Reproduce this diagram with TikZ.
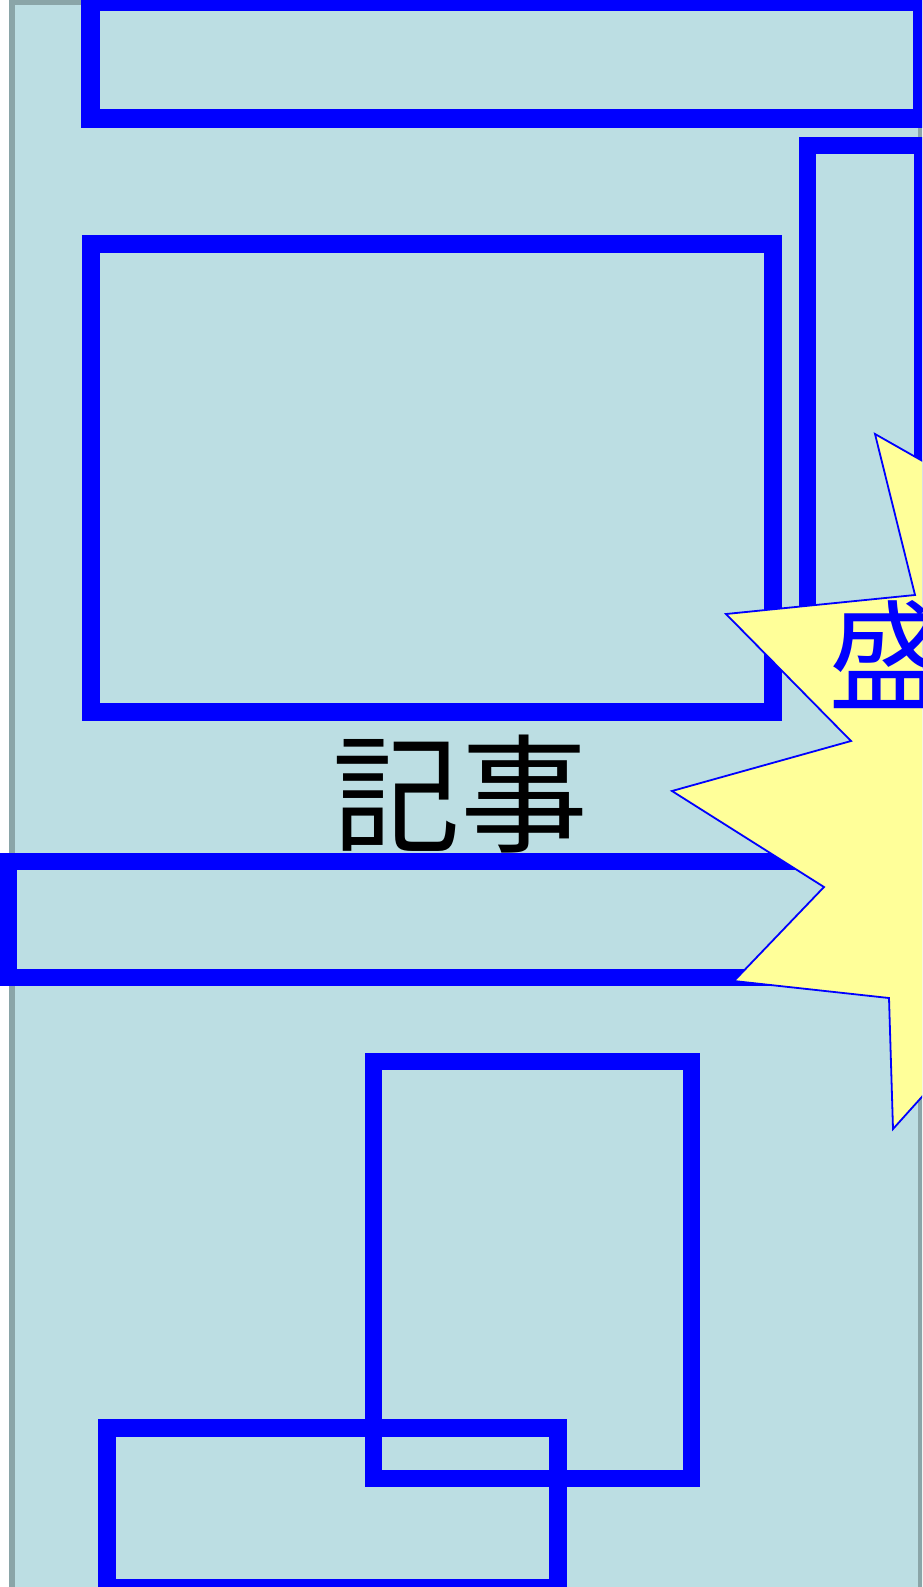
\documentclass[tikz,border=0pt]{standalone}
\usepackage{fontspec}
\newfontfamily\jpfont{Noto Sans CJK JP}
\definecolor{bgblue}{RGB}{188,222,227}
\definecolor{framegray}{RGB}{138,165,168}
\definecolor{staryellow}{RGB}{255,255,153}
\tikzset{
  boxline/.style={draw=blue, line width=18pt},
  starshape/.style={fill=staryellow, draw=blue, line width=1.8pt, line join=miter},
}
\begin{document}
\begin{tikzpicture}[x=1pt,y=-1pt]
\useasboundingbox (0,0) rectangle (922,1587);
\clip (0,0) rectangle (922,1587);
\fill[white] (0,0) rectangle (922,1587);
\filldraw[fill=bgblue, draw=framegray, line width=6pt] (12,2) rectangle (921,1590);
% rectangles
\draw[boxline, line width=19pt] (90.5,1.5) rectangle (922.5,118.5);
\draw[boxline, line width=17pt] (807,145) rectangle (922,660);
\draw[boxline] (90.5,243.5) rectangle (773,712);
\draw[boxline, line width=17pt] (8,861) rectangle (870,977);
\draw[boxline, line width=17pt] (373.5,1061) rectangle (691,1478.5);
\draw[boxline] (106.5,1428) rectangle (557.5,1588);
% label
\node[inner sep=0pt, font=\jpfont\fontsize{128}{132}\selectfont] (kiji) at (460,794) {記事};
% star
\draw[starshape] (1000,505) -- (875,434) -- (915,595) -- (726,614) -- (851,741) -- (672,791)
  -- (824,887) -- (734,981) -- (889,998) -- (893,1129) -- (1000,1010) -- cycle;
\node[inner sep=0pt, text=blue, font=\jpfont\fontsize{120}{124}\selectfont, anchor=west] (sei) at (828,655) {盛};
\end{tikzpicture}
\end{document}
